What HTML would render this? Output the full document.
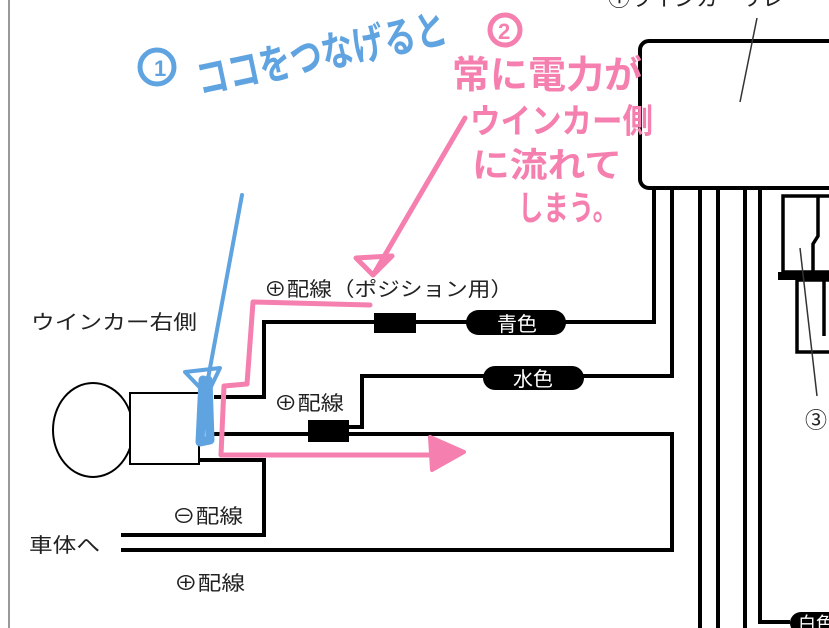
<!DOCTYPE html>
<html><head><meta charset="utf-8"><style>
html,body{margin:0;padding:0;background:#fff;}
svg{display:block;}
text{font-family:"Liberation Sans","Noto Sans CJK JP",sans-serif;}
</style></head><body>
<svg width="829" height="628" viewBox="0 0 829 628" xmlns="http://www.w3.org/2000/svg">
<rect width="829" height="628" fill="#fff"/>
<line x1="9" y1="0" x2="9" y2="628" stroke="#999" stroke-width="2"/>
<!-- relay box -->
<text x="608" y="6" font-size="22" fill="#222">①ウインカーリレー</text>
<rect x="640" y="41" width="200" height="147" rx="9" fill="#fff" stroke="#000" stroke-width="4"/>
<line x1="757" y1="18" x2="740" y2="102" stroke="#333" stroke-width="1.5"/>
<g stroke="#000" stroke-width="4" fill="none">
<path d="M654 188 V322 H264 V397 H214"/>
<path d="M672 188 V376 H362 V427 H340"/>
<path d="M210 434 H672 V550 H121"/>
<path d="M199 460 H264 V535 H121"/>
<line x1="700" y1="188" x2="700" y2="628"/>
<line x1="718" y1="188" x2="718" y2="628"/>
<line x1="745" y1="188" x2="745" y2="628"/>
<path d="M760 188 V622 H790"/>
</g>
<g stroke="#000" stroke-width="3.5" fill="none">
<rect x="783" y="196" width="60" height="76"/>
<path d="M818 196 V236 L813 244 V272"/>
<rect x="797" y="280" width="50" height="72"/>
<line x1="824" y1="280" x2="824" y2="336"/>
</g>
<rect x="778" y="272" width="51" height="8" fill="#000"/>
<line x1="800" y1="248" x2="817" y2="396" stroke="#333" stroke-width="1.5"/>
<text x="805" y="428" font-size="22" fill="#222">③</text>
<rect x="790" y="612" width="60" height="22" rx="11" fill="#000"/>
<text x="798" y="630" font-size="18" fill="#fff">白色</text>
<!-- bulb -->
<ellipse cx="93" cy="430" rx="40" ry="47" fill="#fff" stroke="#000" stroke-width="2"/>
<rect x="130" y="393" width="69" height="71" fill="#fff" stroke="#000" stroke-width="2"/>
<!-- connectors -->
<rect x="374" y="313" width="42" height="20" fill="#000"/>
<rect x="308" y="420" width="41" height="22" fill="#000"/>
<rect x="466" y="310" width="100" height="25" rx="12.5" fill="#000"/>
<text x="497" y="331" font-size="20" fill="#fff">青色</text>
<rect x="483" y="366" width="101" height="24" rx="12" fill="#000"/>
<text x="513" y="386" font-size="20" fill="#fff">水色</text>
<!-- labels -->
<g font-size="20" fill="#222">
<text x="264" y="296" textLength="249" lengthAdjust="spacingAndGlyphs">⊕配線（ポジション用）</text>
<text x="31" y="329" textLength="166" lengthAdjust="spacingAndGlyphs">ウインカー右側</text>
<text x="274" y="410" textLength="70" lengthAdjust="spacingAndGlyphs">⊕配線</text>
<text x="172" y="523" textLength="71" lengthAdjust="spacingAndGlyphs">⊖配線</text>
<text x="29" y="552" textLength="71" lengthAdjust="spacingAndGlyphs">車体へ</text>
<text x="174" y="590" textLength="71" lengthAdjust="spacingAndGlyphs">⊕配線</text>
</g>
<!-- blue annotation -->
<g stroke="#5fa3e0" fill="none" stroke-linecap="round" stroke-linejoin="round">
<line x1="242" y1="195" x2="205" y2="395" stroke-width="4"/>
<path d="M185 372 L207 395 L220 368 Z" stroke-width="4"/>
<path d="M203 380 L200 442 L210 440 L208 380" stroke-width="9"/>
</g>
<circle cx="157" cy="67" r="17" fill="none" stroke="#5fa3e0" stroke-width="5"/>
<text x="154" y="76" font-size="22" font-weight="bold" fill="#5fa3e0">1</text>
<text transform="translate(200,95) rotate(-12)" font-size="42" font-weight="bold" fill="#5fa3e0" textLength="255" lengthAdjust="spacingAndGlyphs">ココをつなげると</text>
<!-- pink annotation -->
<g stroke="#f57fae" fill="none" stroke-linecap="round" stroke-linejoin="round" stroke-width="5">
<circle cx="505" cy="30" r="15"/>
<path d="M465 118 L375 272"/>
<path d="M356 258 L373 275 L392 256 Z"/>
<path d="M370 305 L253 302 L247 384 L224 386 L221 455 L430 455"/>
</g>
<text x="498" y="39" font-size="22" font-weight="bold" fill="#f57fae">2</text>
<path d="M430 437 L464 452 L432 470 Z" fill="#f57fae" stroke="#f57fae" stroke-width="4" stroke-linejoin="round"/>
<g font-size="38" font-weight="bold" fill="#f57fae">
<text x="452" y="88" textLength="190" lengthAdjust="spacingAndGlyphs">常に電力が</text>
<text x="470" y="133" font-size="34" textLength="183" lengthAdjust="spacingAndGlyphs">ウインカー側</text>
<text x="472" y="177" font-size="34" textLength="150" lengthAdjust="spacingAndGlyphs">に流れて</text>
<text x="518" y="220" font-size="34" textLength="100" lengthAdjust="spacingAndGlyphs">しまう。</text>
</g>
</svg>
</body></html>
